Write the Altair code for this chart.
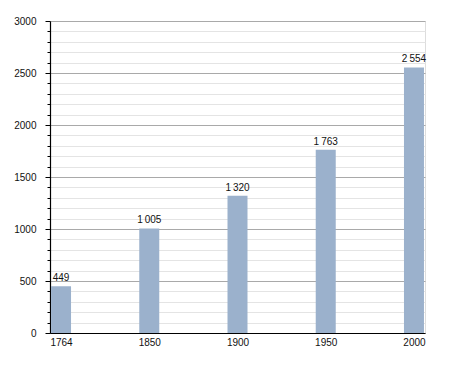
import altair as alt
import pandas as pd

years = ["1764", "1850", "1900", "1950", "2000"]
population = [449, 1005, 1320, 1763, 2554]
y_ticks = list(range(0, 3001, 100))

df = pd.DataFrame({"year": years, "pop": population})

FONT = "Liberation Sans"

x_enc = alt.X("year:N", sort=years,
              scale=alt.Scale(type="point", padding=0.125),
              axis=alt.Axis(title=None, labelAngle=0, ticks=False, labelPadding=4,
                            domainColor="#000000", domainWidth=1.2, grid=False,
                            labelFont=FONT, labelFontSize=10, labelColor="#111111"))
y_enc = alt.Y("pop:Q", scale=alt.Scale(domain=[0, 3000], nice=False),
              axis=alt.Axis(title=None, values=y_ticks,
                            labelExpr="datum.value % 500 === 0 ? datum.label : ''",
                            labelOverlap=False, format="d",
                            domainColor="#000000", domainWidth=1.2,
                            tickColor="#000000",
                            tickSize={"condition": {"test": "datum.value % 500 === 0", "value": 5}, "value": 3},
                            labelPadding=9,
                            grid=True,
                            gridColor={"condition": {"test": "datum.value % 500 === 0", "value": "#a9a9a9"}, "value": "#e4e4e4"},
                            gridWidth=1,
                            labelFont=FONT, labelFontSize=10, labelColor="#111111"))

base = alt.Chart(df).encode(x=x_enc, y=y_enc)

bars = base.mark_bar(size=20, color="#9bb1cc")

labels = base.transform_calculate(
    txt="replace(format(datum.pop, ','), ',', '\u202f')"
).mark_text(baseline="alphabetic", dy=-5, font=FONT, fontSize=10, color="#111111").encode(
    text="txt:N")

chart = alt.layer(bars, labels).properties(
    width=375, height=312,
    autosize=alt.AutoSizeParams(type="none"),
    padding={"left": 50, "top": 21, "right": 30, "bottom": 40},
).configure_view(stroke=None).configure(background="white")

chart.save("out.html", embed_options={"renderer": "svg", "actions": False})
